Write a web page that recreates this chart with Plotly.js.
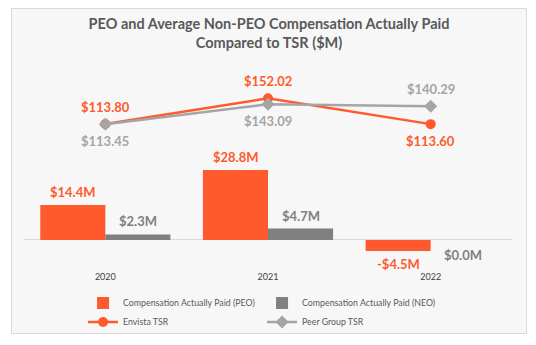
<!DOCTYPE html>
<html>
<head>
<meta charset="utf-8">
<script src="https://cdn.plot.ly/plotly-3.0.1.min.js"></script>
<style>
html,body{margin:0;padding:0;background:#ffffff;}
#chart{position:absolute;left:11px;top:8px;width:514px;height:324px;border:1px solid #d9d9d9;}
</style>
</head>
<body>
<div id="chart"></div>
<script>
var years = ['2020', '2021', '2022'];
var peoCap = [14.4, 28.8, -4.5];
var neoCap = [2.3, 4.7, 0.0];
var envistaTsr = [113.80, 152.02, 113.60];
var peerTsr = [113.45, 143.09, 140.29];
var envistaLabelPos = ['top', 'top', 'bottom'];
var peerLabelPos = ['bottom', 'bottom', 'top'];

var ORANGE = '#FF5A2D';
var GRAY_BAR = '#808080';
var GRAY_LINE = '#A5A5A5';
var FONT = 'Lato, "Open Sans", sans-serif';

function money(v, digits, suffix){
  return (v < 0 ? '-$' : '$') + Math.abs(v).toFixed(digits) + (suffix || '');
}

var traces = [
  {type:'bar', name:'Compensation Actually Paid (PEO)', x:years, y:peoCap,
   marker:{color:ORANGE}, hoverinfo:'none'},
  {type:'bar', name:'Compensation Actually Paid (NEO)', x:years, y:neoCap,
   marker:{color:GRAY_BAR}, hoverinfo:'none'},
  {type:'scatter', mode:'lines+markers', name:'Envista TSR', x:years, y:envistaTsr, yaxis:'y2',
   line:{color:ORANGE, width:2.5}, marker:{color:ORANGE, size:10, symbol:'circle'}, hoverinfo:'none'},
  {type:'scatter', mode:'lines+markers', name:'Peer Group TSR', x:years, y:peerTsr, yaxis:'y2',
   line:{color:GRAY_LINE, width:2.5}, marker:{color:GRAY_LINE, size:10, symbol:'diamond'}, hoverinfo:'none'}
];

var annotations = [];
var barShift = 32.5;
years.forEach(function(yr, i){
  annotations.push({x:i, y:peoCap[i], xref:'x', yref:'y', xshift:-barShift,
    yshift: peoCap[i] > 0 ? 13 : -13, showarrow:false,
    text:money(peoCap[i], 1, 'M'),
    font:{family:FONT, size:13, color:ORANGE, weight:'bold'}});
  annotations.push({x:i, y:neoCap[i], xref:'x', yref:'y', xshift:barShift,
    yshift: neoCap[i] > 0 ? 13 : -15, showarrow:false,
    text:money(neoCap[i], 1, 'M'),
    font:{family:FONT, size:13, color:GRAY_BAR, weight:'bold'}});
  annotations.push({x:i, y:envistaTsr[i], xref:'x', yref:'y2',
    yshift: envistaLabelPos[i] === 'top' ? 17 : -17, showarrow:false,
    text:money(envistaTsr[i], 2),
    font:{family:FONT, size:13, color:ORANGE, weight:'bold'}});
  annotations.push({x:i, y:peerTsr[i], xref:'x', yref:'y2',
    yshift: peerLabelPos[i] === 'top' ? 17 : -17, showarrow:false,
    text:money(peerTsr[i], 2),
    font:{family:FONT, size:13, color:GRAY_LINE, weight:'bold'}});
});

var layout = {
  width:514, height:324,
  margin:{l:12, r:14, t:56, b:63, autoexpand:false},
  paper_bgcolor:'#F7F7F7', plot_bgcolor:'#F7F7F7',
  font:{family:FONT, color:'#595959'},
  title:{text:'PEO and Average Non-PEO Compensation Actually Paid<br>Compared to TSR ($M)',
    font:{family:FONT, size:14.5, color:'#595959', weight:'bold'},
    x:0.5, xanchor:'center', yref:'container', y:0.938, yanchor:'top'},
  barmode:'group', bargap:0.2, bargroupgap:0,
  xaxis:{type:'category', range:[-0.5, 2.5], showgrid:false, showline:false, zeroline:false, ticks:'',
    automargin:false, tickfont:{family:FONT, size:9, color:'#404040'}, fixedrange:true},
  yaxis:{range:[-12.35, 72.0], showgrid:false, showticklabels:false, zeroline:true, automargin:false,
    zerolinecolor:'#D9D9D9', zerolinewidth:1, showline:false, fixedrange:true},
  yaxis2:{range:[-103.5, 201.6], overlaying:'y', side:'right', showgrid:false, automargin:false,
    showticklabels:false, zeroline:false, showline:false, fixedrange:true},
  showlegend:true,
  legend:{orientation:'h', x:0.121, xanchor:'left', y:-0.09, yanchor:'top',
    entrywidth:134, entrywidthmode:'pixels', traceorder:'normal',
    font:{family:FONT, size:8.8, color:'#595959'}, bgcolor:'rgba(0,0,0,0)'},
  annotations:annotations
};

Plotly.newPlot('chart', traces, layout, {staticPlot:true, displayModeBar:false});
</script>
</body>
</html>
